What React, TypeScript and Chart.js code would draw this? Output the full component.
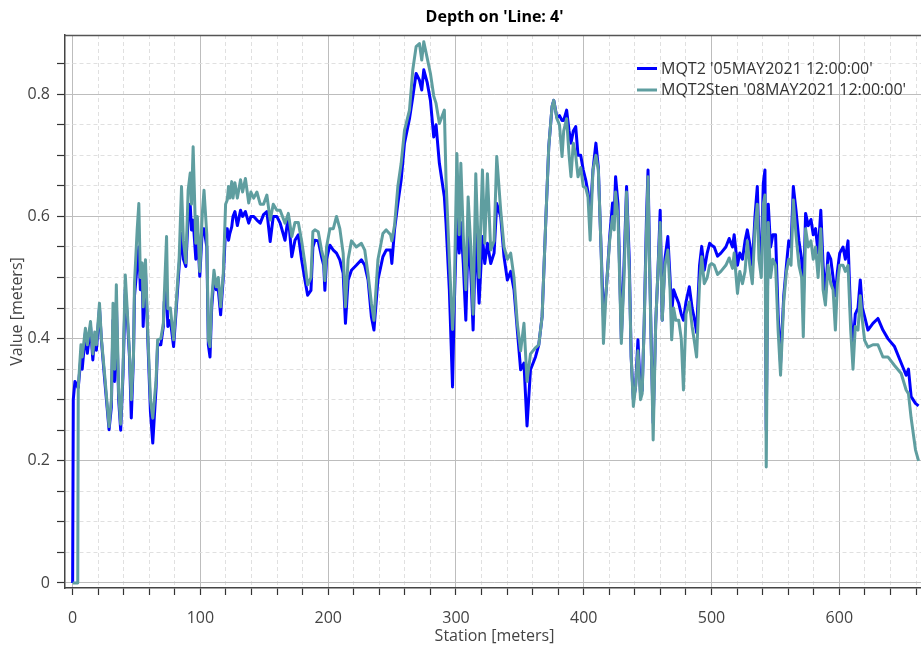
import React, { useEffect, useRef } from "react";
import { Chart, registerables } from "chart.js";

Chart.register(...registerables);

const chartTitle = "Depth on 'Line: 4'";
const xAxisTitle = "Station [meters]";
const yAxisTitle = "Value [meters]";
const seriesNames = ["MQT2 '05MAY2021 12:00:00'", "MQT2Sten '08MAY2021 12:00:00'"];

const stations = [
  0, 0.5, 1.8, 4.0, 4.4, 6.5, 7.5, 10, 11.5, 14, 15.8, 17.3, 18.6, 21, 22.5, 25.1, 28.5, 30.3, 31.6, 32.9,
  34.2, 36, 37.6, 39.4, 41.2, 42.6, 44.5, 45.9, 47.6, 48.4, 50.5, 51.8, 53, 54.4, 55.2, 57, 58.8, 60.9, 62.7, 65.3,
  66.5, 69, 71, 71.7, 73.5, 74.5, 76.5, 79, 80.8, 83.4, 85.2, 86.7, 88.6, 90.4, 92, 93, 94.3, 96.4, 97.6, 99.5,
  101.5, 102.8, 105, 106.2, 107.5, 108.8, 110.6, 112.4, 114, 115.8, 117.9, 119.7, 121, 122, 123, 124.5, 125.5, 127, 128.9, 131.4,
  133, 135.2, 137.8, 139.5, 141.7, 144.2, 146.8, 149.4, 152, 154.6, 157, 159.8, 162.4, 166.2, 168.8, 171.5, 174, 176.6, 179.2, 181.8,
  183.9, 186.5, 188, 189.6, 192.2, 194.8, 196.5, 197.4, 198.7, 201.3, 204, 206.5, 209.1, 211.7, 213.5, 215.6, 218.2, 222, 226, 228.6,
  231.2, 233.8, 235.8, 238.9, 242.8, 245.4, 248.8, 249.8, 251.9, 254.5, 257.1, 259.7, 263.6, 266.2, 268.8, 271.4, 273.2, 274.8, 277.4, 280,
  282.6, 284.4, 287, 290.9, 292.2, 294.8, 297.3, 298.6, 300.7, 302.5, 303.8, 305.7, 307.7, 309.5, 311.6, 313.4, 315.5, 318.1, 320.7, 322.5,
  324.6, 327.2, 329.8, 331.9, 335, 337.6, 340.2, 342.8, 345.4, 348, 350.6, 353.2, 355.6, 358.3, 362.2, 364.8, 367.4, 370.4, 372.6, 375.2,
  376.5, 379, 381, 383, 384.3, 386.6, 388.5, 390, 391.8, 393.7, 395.5, 397.6, 399.6, 401.5, 403.3, 405, 407.2, 409.5, 411.4, 413.5,
  415.4, 417.6, 420.3, 422.5, 423.8, 424.9, 426.8, 429.4, 431.5, 433.5, 435.6, 437.1, 438.8, 440.5, 442.4, 444.4, 445.7, 447.3, 449.1, 450.3,
  451.5, 453, 454.3, 456.3, 458, 459.8, 461.4, 463.5, 465.8, 467.5, 468.8, 470.3, 472, 474.3, 476.3, 478, 480, 482.6, 484.8, 486.8,
  488.3, 490.6, 492.3, 494.3, 496.6, 498.5, 500, 502.1, 504.7, 507.3, 511.2, 513.8, 516.4, 517.7, 520.3, 522.1, 524.2, 526.2, 528, 529.9,
  531.9, 534, 535.8, 537.1, 538.9, 540.5, 541.8, 542.8, 544.4, 546.2, 548, 550.1, 552.1, 554, 556.5, 558.6, 560.4, 562.2, 564, 566.1,
  568.4, 570.5, 571.8, 573.6, 575.7, 577.8, 579.6, 581.4, 583.4, 585.5, 587.3, 589.1, 591.2, 593.3, 595.1, 596.9, 598.5, 600.3, 602.9, 604.7,
  606.8, 608.9, 610.7, 612.5, 614.6, 616.4, 618, 619.8, 622.4, 626.3, 630.2, 634.1, 638, 643.2, 648.4, 652.3, 654.1, 656.2, 659.6, 662,
];

const mqt2 = [
  0, 0.30, 0.33, 0.32, 0.32, 0.37, 0.35, 0.41, 0.376, 0.42, 0.365, 0.405, 0.381, 0.45, 0.398, 0.332, 0.251, 0.288, 0.43, 0.33,
  0.46, 0.30, 0.25, 0.34, 0.48, 0.44, 0.37, 0.27, 0.37, 0.47, 0.52, 0.55, 0.48, 0.51, 0.42, 0.51, 0.40, 0.28, 0.229, 0.32,
  0.39, 0.39, 0.42, 0.46, 0.48, 0.42, 0.43, 0.387, 0.44, 0.52, 0.572, 0.53, 0.518, 0.60, 0.62, 0.578, 0.594, 0.53, 0.58, 0.502,
  0.58, 0.58, 0.55, 0.39, 0.37, 0.45, 0.50, 0.48, 0.48, 0.439, 0.50, 0.58, 0.58, 0.561, 0.572, 0.583, 0.60, 0.608, 0.585, 0.61,
  0.60, 0.608, 0.589, 0.60, 0.60, 0.594, 0.589, 0.603, 0.608, 0.559, 0.60, 0.60, 0.589, 0.561, 0.601, 0.534, 0.561, 0.57, 0.529, 0.496,
  0.471, 0.479, 0.55, 0.561, 0.56, 0.534, 0.52, 0.479, 0.53, 0.553, 0.545, 0.54, 0.529, 0.507, 0.425, 0.496, 0.512, 0.52, 0.529, 0.52,
  0.496, 0.436, 0.414, 0.496, 0.534, 0.545, 0.545, 0.523, 0.578, 0.621, 0.66, 0.72, 0.76, 0.796, 0.834, 0.823, 0.807, 0.84, 0.82, 0.79,
  0.73, 0.75, 0.687, 0.632, 0.589, 0.48, 0.321, 0.45, 0.60, 0.54, 0.59, 0.523, 0.43, 0.567, 0.51, 0.414, 0.578, 0.458, 0.567, 0.523,
  0.556, 0.523, 0.54, 0.621, 0.60, 0.534, 0.496, 0.51, 0.48, 0.414, 0.349, 0.36, 0.257, 0.349, 0.37, 0.39, 0.436, 0.60, 0.714, 0.78,
  0.79, 0.762, 0.765, 0.757, 0.757, 0.774, 0.74, 0.72, 0.74, 0.747, 0.70, 0.70, 0.676, 0.66, 0.64, 0.60, 0.676, 0.72, 0.68, 0.55,
  0.436, 0.48, 0.567, 0.622, 0.60, 0.665, 0.62, 0.40, 0.52, 0.649, 0.53, 0.37, 0.30, 0.32, 0.398, 0.31, 0.315, 0.425, 0.60, 0.676,
  0.53, 0.37, 0.262, 0.425, 0.507, 0.61, 0.43, 0.53, 0.567, 0.50, 0.44, 0.48, 0.47, 0.458, 0.44, 0.43, 0.46, 0.485, 0.45, 0.43,
  0.41, 0.52, 0.551, 0.512, 0.54, 0.556, 0.553, 0.55, 0.535, 0.54, 0.55, 0.564, 0.55, 0.57, 0.52, 0.54, 0.53, 0.56, 0.578, 0.555,
  0.52, 0.60, 0.649, 0.56, 0.53, 0.654, 0.676, 0.25, 0.62, 0.55, 0.57, 0.57, 0.44, 0.36, 0.47, 0.52, 0.56, 0.55, 0.649, 0.61,
  0.56, 0.53, 0.46, 0.605, 0.585, 0.595, 0.57, 0.58, 0.54, 0.61, 0.52, 0.47, 0.54, 0.53, 0.50, 0.47, 0.51, 0.54, 0.55, 0.53,
  0.56, 0.436, 0.387, 0.44, 0.45, 0.496, 0.45, 0.436, 0.414, 0.425, 0.433, 0.414, 0.40, 0.387, 0.36, 0.34, 0.35, 0.305, 0.294, 0.29,
];

const mqt2Sten = [
  0, 0, 0, 0, 0.32, 0.39, 0.37, 0.417, 0.39, 0.428, 0.375, 0.411, 0.39, 0.458, 0.40, 0.34, 0.256, 0.30, 0.458, 0.35,
  0.488, 0.311, 0.26, 0.349, 0.504, 0.452, 0.376, 0.30, 0.37, 0.491, 0.578, 0.621, 0.50, 0.524, 0.452, 0.529, 0.409, 0.30, 0.27, 0.332,
  0.398, 0.40, 0.425, 0.469, 0.567, 0.449, 0.45, 0.398, 0.449, 0.534, 0.649, 0.56, 0.524, 0.643, 0.671, 0.62, 0.714, 0.556, 0.60, 0.51,
  0.605, 0.643, 0.57, 0.398, 0.387, 0.463, 0.512, 0.485, 0.50, 0.452, 0.507, 0.62, 0.627, 0.649, 0.63, 0.657, 0.63, 0.655, 0.63, 0.66,
  0.64, 0.662, 0.622, 0.64, 0.63, 0.64, 0.62, 0.62, 0.635, 0.594, 0.62, 0.61, 0.61, 0.589, 0.605, 0.567, 0.59, 0.59, 0.56, 0.523,
  0.488, 0.50, 0.575, 0.578, 0.575, 0.545, 0.53, 0.495, 0.55, 0.58, 0.58, 0.60, 0.58, 0.54, 0.452, 0.53, 0.56, 0.55, 0.556, 0.545,
  0.505, 0.458, 0.43, 0.529, 0.572, 0.578, 0.57, 0.56, 0.585, 0.649, 0.687, 0.741, 0.774, 0.84, 0.878, 0.883, 0.856, 0.886, 0.86, 0.834,
  0.797, 0.785, 0.752, 0.774, 0.66, 0.53, 0.415, 0.47, 0.703, 0.57, 0.687, 0.57, 0.48, 0.632, 0.55, 0.44, 0.67, 0.50, 0.676, 0.556,
  0.67, 0.545, 0.56, 0.698, 0.61, 0.55, 0.53, 0.54, 0.50, 0.425, 0.38, 0.425, 0.33, 0.375, 0.385, 0.39, 0.436, 0.60, 0.714, 0.78,
  0.79, 0.76, 0.75, 0.698, 0.74, 0.76, 0.70, 0.665, 0.72, 0.70, 0.665, 0.68, 0.649, 0.647, 0.632, 0.561, 0.676, 0.70, 0.676, 0.55,
  0.392, 0.48, 0.561, 0.60, 0.578, 0.64, 0.60, 0.392, 0.50, 0.64, 0.512, 0.37, 0.289, 0.32, 0.38, 0.30, 0.31, 0.425, 0.58, 0.665,
  0.512, 0.37, 0.234, 0.425, 0.507, 0.59, 0.43, 0.52, 0.545, 0.48, 0.398, 0.45, 0.43, 0.43, 0.40, 0.316, 0.44, 0.46, 0.42, 0.392,
  0.37, 0.49, 0.534, 0.49, 0.50, 0.52, 0.523, 0.52, 0.505, 0.51, 0.52, 0.532, 0.515, 0.54, 0.474, 0.51, 0.49, 0.51, 0.56, 0.52,
  0.49, 0.58, 0.62, 0.53, 0.50, 0.62, 0.635, 0.19, 0.59, 0.50, 0.53, 0.52, 0.414, 0.34, 0.46, 0.51, 0.53, 0.52, 0.627, 0.57,
  0.52, 0.50, 0.403, 0.58, 0.55, 0.56, 0.53, 0.55, 0.50, 0.58, 0.48, 0.455, 0.52, 0.49, 0.48, 0.414, 0.49, 0.52, 0.52, 0.51,
  0.52, 0.414, 0.35, 0.42, 0.414, 0.47, 0.43, 0.397, 0.386, 0.39, 0.39, 0.37, 0.37, 0.356, 0.343, 0.316, 0.31, 0.27, 0.218, 0.20,
];

const xTickValues = [
  0, 20, 40, 60, 80, 100, 120, 140, 160, 180, 200, 220, 240, 260, 280, 300, 320, 340, 360, 380,
  400, 420, 440, 460, 480, 500, 520, 540, 560, 580, 600, 620, 640, 660,
];
const xLabelValues = [0, 100, 200, 300, 400, 500, 600];
const yTickValues = [0, 0.05, 0.1, 0.15, 0.2, 0.25, 0.3, 0.35, 0.4, 0.45, 0.5, 0.55, 0.6, 0.65, 0.7, 0.75, 0.8, 0.85];
const yLabelValues = [0, 0.2, 0.4, 0.6, 0.8];

const FONT = "'Open Sans', 'Noto Sans', sans-serif";

const isLabelY = (v: number) => yLabelValues.some((l) => Math.abs(l - v) < 1e-6);
const isLabelX = (v: number) => xLabelValues.some((l) => Math.abs(l - v) < 1e-6);

const decorPlugin = {
  id: "decor",
  afterDraw(chart: any) {
    const { ctx, chartArea } = chart;
    ctx.save();
    // top frame line
    ctx.strokeStyle = "#555555";
    ctx.lineWidth = 1.5;
    ctx.beginPath();
    ctx.moveTo(chartArea.left, chartArea.top + 0.5);
    ctx.lineTo(chartArea.right, chartArea.top + 0.5);
    ctx.stroke();
    // title
    ctx.fillStyle = "#000000";
    ctx.font = `bold 16px ${FONT}`;
    ctx.textAlign = "center";
    ctx.textBaseline = "middle";
    ctx.fillText(chartTitle, (chartArea.left + chartArea.right) / 2, 17.5);
    // legend
    const lx = 637;
    const rows = [68.5, 90];
    chart.data.datasets.forEach((ds: any, i: number) => {
      const y = rows[i];
      ctx.strokeStyle = ds.borderColor;
      ctx.lineWidth = 3;
      ctx.beginPath();
      ctx.moveTo(lx, y);
      ctx.lineTo(lx + 20, y);
      ctx.stroke();
      ctx.fillStyle = "#333333";
      ctx.font = `16px ${FONT}`;
      ctx.textAlign = "left";
      ctx.textBaseline = "middle";
      ctx.fillText(ds.label, lx + 24, y + 0.5);
    });
    ctx.restore();
  },
};

export default function App() {
  const ref = useRef<HTMLCanvasElement | null>(null);

  useEffect(() => {
    if (!ref.current) return;
    document.body.style.margin = "0";
    const chart = new Chart(ref.current, {
      type: "line",
      data: {
        datasets: [
          {
            label: seriesNames[0],
            data: stations.map((s, i) => ({ x: s, y: mqt2[i] })),
            borderColor: "#0000ff",
            borderWidth: 3,
            borderJoinStyle: "round",
            pointRadius: 0,
            tension: 0,
            order: 2,
          },
          {
            label: seriesNames[1],
            data: stations.map((s, i) => ({ x: s, y: mqt2Sten[i] })),
            borderColor: "#5f9ea0",
            borderWidth: 3,
            borderJoinStyle: "round",
            pointRadius: 0,
            tension: 0,
            order: 1,
          },
        ],
      },
      options: {
        responsive: false,
        animation: false,
        devicePixelRatio: 1,
        layout: { padding: { top: 35, left: 0, right: 0, bottom: 0 } },
        plugins: {
          legend: { display: false },
          title: { display: false },
          tooltip: { enabled: false },
        },
        scales: {
          x: {
            type: "linear",
            min: -5.98,
            max: 666.3,
            afterFit: (s: any) => {
              s.height = 60;
            },
            afterBuildTicks: (s: any) => {
              s.ticks = xTickValues.map((v) => ({ value: v }));
            },
            ticks: {
              autoSkip: false,
              maxRotation: 0,
              padding: 14,
              color: "#444444",
              font: { family: FONT, size: 16 },
              callback: (v: any) => (isLabelX(Number(v)) ? String(v) : ""),
            },
            grid: {
              color: (c: any) => (c.tick && isLabelX(c.tick.value) ? "#bdbdbd" : "#e0e0e0"),
              lineWidth: 1,
              tickColor: "#333333",
              tickLength: 7,
              tickWidth: 1.2,
            },
            border: {
              display: true,
              color: "#444444",
              width: 1.5,
              dash: (c: any) => (c.tick && isLabelX(c.tick.value) ? [] : [4, 3]),
            },
            title: {
              display: true,
              text: xAxisTitle,
              color: "#444444",
              font: { family: FONT, size: 16 },
              padding: { top: 0, bottom: 2 },
            },
          },
          y: {
            type: "linear",
            min: -0.0082,
            max: 0.897,
            afterFit: (s: any) => {
              s.width = 65;
            },
            afterBuildTicks: (s: any) => {
              s.ticks = yTickValues.map((v) => ({ value: v }));
            },
            ticks: {
              autoSkip: false,
              padding: 7,
              color: "#444444",
              font: { family: FONT, size: 16 },
              callback: (v: any) => {
                const n = Number(v);
                if (!isLabelY(n)) return "";
                return Math.abs(n) < 1e-9 ? "0" : n.toFixed(1);
              },
            },
            grid: {
              color: (c: any) => (c.tick && isLabelY(c.tick.value) ? "#bdbdbd" : "#e0e0e0"),
              lineWidth: 1,
              tickColor: "#333333",
              tickLength: 8,
              tickWidth: 1.2,
            },
            border: {
              display: true,
              color: "#444444",
              width: 1.5,
              dash: (c: any) => (c.tick && isLabelY(c.tick.value) ? [] : [4, 3]),
            },
            title: {
              display: true,
              text: yAxisTitle,
              color: "#444444",
              font: { family: FONT, size: 16 },
              padding: { top: 8, bottom: 0 },
            },
          },
        },
      },
      plugins: [decorPlugin],
    } as any);
    return () => chart.destroy();
  }, []);

  return (
    <div
      style={{
        position: "fixed",
        left: 0,
        top: 0,
        width: 921,
        height: 648,
        overflow: "hidden",
        background: "#ffffff",
      }}
    >
      <canvas ref={ref} width={930} height={648} style={{ display: "block" }} />
    </div>
  );
}
